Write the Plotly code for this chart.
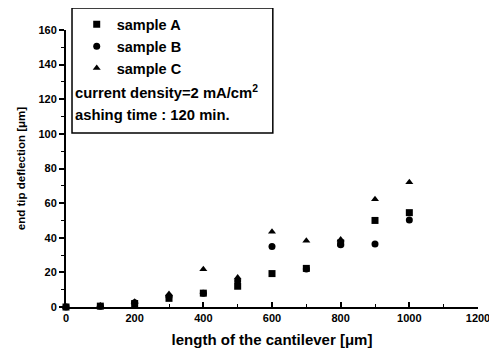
import plotly.graph_objects as go

lengths = [0, 100, 200, 300, 400, 500, 600, 700, 800, 900, 1000]
sample_a = [0, 0.5, 2, 5, 8, 12, 19.3, 22.3, 37, 50, 54.5]
sample_b = [0, 0.5, 2.5, 6, 8, 15, 35, 22, 36, 36.4, 50.3]
sample_c = [0, 0.8, 3, 7.5, 21.8, 17, 43.5, 38.3, 39, 62.2, 72]

x_ticks = [0, 200, 400, 600, 800, 1000, 1200]
y_ticks = [0, 20, 40, 60, 80, 100, 120, 140, 160]

FONT = "Liberation Sans, Arial, sans-serif"

def f(size):
    return dict(family=FONT, size=size, color="black", weight="bold")

fig = go.Figure()
for name, vals, sym in [("sample A", sample_a, "square"),
                        ("sample B", sample_b, "circle"),
                        ("sample C", sample_c, "triangle-up")]:
    fig.add_trace(go.Scatter(x=lengths, y=vals, mode="markers", name=name,
                             marker=dict(symbol=sym, size=7, color="black"),
                             cliponaxis=False))

axis_common = dict(showline=True, linecolor="black", linewidth=2, showgrid=False,
                   zeroline=False, tickcolor="black", tickwidth=1.5,
                   ticklen=5, tickfont=f(11))

fig.update_xaxes(range=[0, 1200], tickvals=x_ticks, ticktext=[str(v) for v in x_ticks],
                 title=dict(text="length of the cantilever [μm]", font=f(15), standoff=11),
                 ticks="inside",
                 minor=dict(ticks="inside", ticklen=3, tickcolor="black", tickwidth=1, dtick=100),
                 **axis_common)
fig.update_yaxes(range=[0, 160], tickvals=y_ticks, ticktext=[str(v) for v in y_ticks],
                 title=dict(text="end tip deflection [μm]", font=f(11.5), standoff=10),
                 ticks="outside",
                 minor=dict(ticks="outside", ticklen=3, tickcolor="black", tickwidth=1, dtick=10),
                 **axis_common)

fig.add_shape(type="rect", xref="paper", yref="paper", x0=0.0146, x1=0.502, y0=0.628, y1=1.079,
              line=dict(color="black", width=1.5), fillcolor="white", layer="below")

fig.add_annotation(xref="paper", yref="paper", x=0.016, y=0.775, xanchor="left", yanchor="middle",
                   text="current density=2 mA/cm<sup>2</sup>", showarrow=False, font=f(14.8))
fig.add_annotation(xref="paper", yref="paper", x=0.016, y=0.693, xanchor="left", yanchor="middle",
                   text="ashing time : 120 min.", showarrow=False, font=f(14.8))

fig.update_layout(
    width=489, height=348,
    margin=dict(l=58, r=19, t=22, b=49, autoexpand=False),
    paper_bgcolor="white", plot_bgcolor="white",
    showlegend=True,
    legend=dict(x=0.026, y=1.078, xanchor="left", yanchor="top", bgcolor="rgba(0,0,0,0)",
                borderwidth=0, font=f(14.5), itemwidth=30, tracegroupgap=0),
)

fig.write_html("out.html")
